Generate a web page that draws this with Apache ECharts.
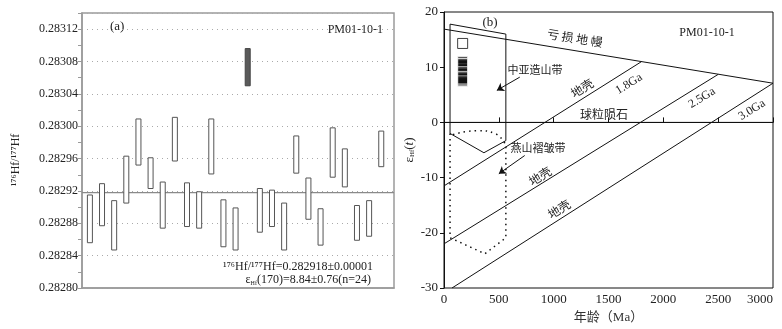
<!DOCTYPE html>
<html>
<head>
<meta charset="utf-8">
<script src="https://cdn.jsdelivr.net/npm/echarts@6/dist/echarts.min.js"></script>
<style>
  html, body { margin: 0; padding: 0; background: #fff; }
  #main { width: 782px; height: 329px; }
</style>
</head>
<body>
<div id="main"></div>
<script>
// (a) 176Hf/177Hf of each analysed spot (top / bottom of the 2σ box)
var spotNo = [1, 2, 3, 4, 5, 6, 7, 8, 9, 10, 11, 12, 13, 14, 15, 16, 17, 18, 19, 20, 21, 22, 23, 24, 25];
var hfHigh = [0.282915, 0.282929, 0.282908, 0.282963, 0.283009, 0.282961, 0.282931, 0.283011, 0.282930, 0.282919,
              0.283009, 0.282909, 0.282899, 0.283096, 0.282923, 0.282921, 0.282905, 0.282988, 0.282936, 0.282898,
              0.282998, 0.282972, 0.282902, 0.282908, 0.282994];
var hfLow  = [0.282856, 0.282877, 0.282847, 0.282905, 0.282952, 0.282923, 0.282874, 0.282957, 0.282876, 0.282874,
              0.282941, 0.282851, 0.282847, 0.283050, 0.282869, 0.282876, 0.282847, 0.282942, 0.282885, 0.282853,
              0.282937, 0.282925, 0.282859, 0.282864, 0.282950];
var rejectedSpot = [14];
var weightedMean = 0.282918;
var hfTicks = ['0.28280', '0.28284', '0.28288', '0.28292', '0.28296', '0.28300', '0.28304', '0.28308', '0.28312'];

// (b) εHf(t) vs age
var zirconAge = 170;
var epsHf = [7.7, 8.3, 7.4, 9.4, 11.1, 9.7, 8.3, 11.2, 8.3, 8.1, 10.9, 7.5,
             7.3, 8.1, 8.2, 7.4, 10.5, 8.6, 7.3, 10.6, 9.9, 7.5, 7.7, 10.8];
var epsRejected = [14.3];
var dmLine = [[0, 16.9], [3000, 7.1]];
var churLine = [[0, 0], [3000, 0]];
var crust18 = [[0, -11.5], [1800, 11.0]];
var crust25 = [[0, -22.0], [2500, 8.7]];
var crust30 = [[73, -30], [3000, 7.1]];
var caobField = [[55, 17.8], [564, 16.0], [564, -3.3], [364, -5.5], [55, -2.0], [55, 17.8]];
var yanshanField = [[55, -2.0], [55, -20.9], [373, -23.8], [564, -20.9], [564, -3.8]];
var yanshanArc = [[82, -2.2], [309, -1.5], [464, -2.0], [555, -3.8]];

var serif = '"Liberation Serif", "Noto Sans CJK SC", serif';
var cjk = '"Noto Sans CJK SC", "Liberation Serif", sans-serif';

var myChart = echarts.init(document.getElementById('main'));

function lineSeries(data, opts) {
    return Object.assign({
        type: 'line',
        xAxisIndex: 1,
        yAxisIndex: 1,
        data: data,
        symbol: 'none',
        silent: true,
        animation: false,
        lineStyle: { color: '#111', width: 1 }
    }, opts || {});
}

var boxData = spotNo.map(function (n, i) {
    return [n, hfLow[i], hfHigh[i], rejectedSpot.indexOf(n) >= 0 ? 1 : 0];
});

var option = {
    animation: false,
    backgroundColor: '#fff',
    textStyle: { fontFamily: serif },
    grid: [
        { left: 82, top: 13, width: 312, height: 275, show: true, borderColor: '#9a9a9a', borderWidth: 1.5 },
        { left: 444, top: 12, width: 329, height: 276, show: true, borderColor: '#111', borderWidth: 1 }
    ],
    xAxis: [
        {
            gridIndex: 0, type: 'value', min: 0.35, max: 26.05,
            axisLine: { show: true, lineStyle: { color: '#9a9a9a', width: 1.5 } },
            axisTick: { show: false }, axisLabel: { show: false }, splitLine: { show: false }
        },
        {
            gridIndex: 1, type: 'value', min: 0, max: 3000, interval: 500,
            name: '年龄（Ma）', nameLocation: 'middle', nameGap: 23,
            nameTextStyle: { fontFamily: serif, fontSize: 13, color: '#333', fontWeight: 'normal' },
            axisLine: { lineStyle: { color: '#111' } },
            axisTick: { inside: true, length: 5, lineStyle: { color: '#111' } },
            axisLabel: {
                fontSize: 13, color: '#222', margin: 5, alignMaxLabel: 'right',
                formatter: function (v) { return String(v); }
            },
            splitLine: { show: false }
        }
    ],
    yAxis: [
        {
            gridIndex: 0, type: 'value', min: 0.28280, max: 0.28314, interval: 0.00004,
            axisLine: { lineStyle: { color: '#9a9a9a', width: 1.5 } },
            axisTick: { length: 4, lineStyle: { color: '#9a9a9a' } },
            minorTick: { show: true, splitNumber: 2, length: 4, lineStyle: { color: '#9a9a9a' } },
            axisLabel: {
                fontSize: 12, color: '#222', margin: 4, showMaxLabel: false,
                formatter: function (v) {
                    var s = v.toFixed(5);
                    return hfTicks.indexOf(s) >= 0 ? s : '';
                }
            },
            splitLine: { show: true, lineStyle: { color: '#aaa', type: [1, 4], width: 1 } }
        },
        {
            gridIndex: 1, type: 'value', min: -30, max: 20, interval: 10,
            name: '{e|ε}{s|Hf}{e|(}{i|t}{e|)}', nameLocation: 'middle', nameGap: 28,
            nameTextStyle: {
                color: '#222',
                rich: {
                    e: { fontFamily: serif, fontSize: 13 },
                    i: { fontFamily: serif, fontSize: 13, fontStyle: 'italic' },
                    s: { fontFamily: serif, fontSize: 7, padding: [6, 0, 0, 0] }
                }
            },
            axisLine: { lineStyle: { color: '#111' } },
            axisTick: { length: 4, lineStyle: { color: '#111' } },
            axisLabel: { fontSize: 13, color: '#222', margin: 6 },
            splitLine: { show: false }
        }
    ],
    series: [
        {
            type: 'custom',
            xAxisIndex: 0,
            yAxisIndex: 0,
            data: boxData,
            encode: { x: 0, y: [1, 2] },
            silent: true,
            renderItem: function (params, api) {
                var top = api.coord([api.value(0), api.value(2)]);
                var bot = api.coord([api.value(0), api.value(1)]);
                var dark = api.value(3) === 1;
                var w = 5;
                return {
                    type: 'rect',
                    shape: { x: top[0] - w / 2, y: top[1], width: w, height: bot[1] - top[1] },
                    style: { fill: dark ? '#5a5a5a' : '#fff', stroke: dark ? '#444' : '#555', lineWidth: 1 }
                };
            }
        },
        {
            type: 'line',
            xAxisIndex: 0,
            yAxisIndex: 0,
            symbol: 'none',
            silent: true,
            data: [[0.35, weightedMean], [26.05, weightedMean]],
            lineStyle: { color: '#8a8a8a', width: 1.2 },
            z: 1
        },
        lineSeries(dmLine),
        lineSeries(churLine),
        lineSeries(crust18),
        lineSeries(crust25),
        lineSeries(crust30),
        lineSeries(caobField),
        lineSeries(yanshanField, { lineStyle: { color: '#111', width: 1.5, type: [1.5, 4] } }),
        lineSeries(yanshanArc, { smooth: true, lineStyle: { color: '#111', width: 1.5, type: [1.5, 4] } }),
        {
            type: 'scatter',
            xAxisIndex: 1,
            yAxisIndex: 1,
            silent: true,
            symbol: 'rect',
            symbolSize: 10,
            data: epsRejected.map(function (e) { return [zirconAge, e]; }),
            itemStyle: { color: '#fff', borderColor: '#111', borderWidth: 1 }
        },
        {
            type: 'scatter',
            xAxisIndex: 1,
            yAxisIndex: 1,
            silent: true,
            symbol: 'rect',
            symbolSize: [10, 8],
            data: epsHf.map(function (e) { return [zirconAge, e]; }),
            itemStyle: { color: '#111', borderColor: '#fff', borderWidth: 1 }
        },
        {
            type: 'line',
            xAxisIndex: 1,
            yAxisIndex: 1,
            data: [],
            markLine: {
                silent: true,
                animation: false,
                symbol: ['none', 'arrow'],
                symbolSize: 7,
                label: { show: false },
                lineStyle: { color: '#111', width: 1, type: 'solid' },
                data: [
                    [{ coord: [691, 8.2] }, { coord: [482, 5.8] }],
                    [{ coord: [736, -6.0] }, { coord: [500, -9.3] }]
                ]
            }
        }
    ],
    graphic: [
        // panel (a)
        { type: 'text', x: 16, y: 160, rotation: Math.PI / 2, style: { text: '¹⁷⁶Hf/¹⁷⁷Hf', font: '12px ' + serif, fill: '#222', textAlign: 'center', textVerticalAlign: 'middle' } },
        { type: 'text', left: 110, top: 20, style: { text: '(a)', font: '13px ' + serif, fill: '#222' } },
        { type: 'text', x: 383, y: 30, style: { text: 'PM01-10-1', font: '12px ' + serif, fill: '#222', textAlign: 'right', textVerticalAlign: 'middle' } },
        { type: 'text', x: 373, y: 267, style: { text: '¹⁷⁶Hf/¹⁷⁷Hf=0.282918±0.00001', font: '12px ' + serif, fill: '#222', textAlign: 'right', textVerticalAlign: 'middle' } },
        {
            type: 'text', x: 371, y: 280,
            style: {
                text: '{e|ε}{s|Hf}{e|(170)=8.84±0.76(n=24)}',
                fill: '#222', align: 'right', verticalAlign: 'middle',
                rich: {
                    e: { fontFamily: serif, fontSize: 12, fill: '#222' },
                    s: { fontFamily: serif, fontSize: 6, fill: '#222', padding: [6, 0, 0, 0] }
                }
            }
        },
        // panel (b)
        { type: 'text', x: 490, y: 23, style: { text: '(b)', font: '13px ' + serif, fill: '#222', textAlign: 'center', textVerticalAlign: 'middle' } },
        { type: 'text', x: 707, y: 33, style: { text: 'PM01-10-1', font: '12px ' + serif, fill: '#222', textAlign: 'center', textVerticalAlign: 'middle' } },
        { type: 'text', x: 575, y: 38, rotation: -0.16, style: { text: '亏 损 地 幔', font: '12px ' + cjk, fill: '#222', textAlign: 'center', textVerticalAlign: 'middle' } },
        { type: 'text', x: 535, y: 70, style: { text: '中亚造山带', font: '11px ' + cjk, fill: '#222', textAlign: 'center', textVerticalAlign: 'middle' } },
        { type: 'text', x: 582, y: 88, rotation: 0.555, style: { text: '地壳', font: '12px ' + cjk, fill: '#222', textAlign: 'center', textVerticalAlign: 'middle' } },
        { type: 'text', x: 629, y: 84, rotation: 0.555, style: { text: '1.8Ga', font: '12px ' + serif, fill: '#222', textAlign: 'center', textVerticalAlign: 'middle' } },
        { type: 'text', x: 604, y: 114, style: { text: '球粒陨石', font: '12px ' + cjk, fill: '#222', textAlign: 'center', textVerticalAlign: 'middle' } },
        { type: 'text', x: 702, y: 98, rotation: 0.555, style: { text: '2.5Ga', font: '12px ' + serif, fill: '#222', textAlign: 'center', textVerticalAlign: 'middle' } },
        { type: 'text', x: 752, y: 110, rotation: 0.555, style: { text: '3.0Ga', font: '12px ' + serif, fill: '#222', textAlign: 'center', textVerticalAlign: 'middle' } },
        { type: 'text', x: 538, y: 148, style: { text: '燕山褶皱带', font: '11px ' + cjk, fill: '#222', textAlign: 'center', textVerticalAlign: 'middle' } },
        { type: 'text', x: 540, y: 176, rotation: 0.555, style: { text: '地壳', font: '12px ' + cjk, fill: '#222', textAlign: 'center', textVerticalAlign: 'middle' } },
        { type: 'text', x: 559, y: 209, rotation: 0.555, style: { text: '地壳', font: '12px ' + cjk, fill: '#222', textAlign: 'center', textVerticalAlign: 'middle' } }
    ]
};

myChart.setOption(option);
window.addEventListener('resize', function () {
    myChart.resize();
});
</script>
</body>
</html>
